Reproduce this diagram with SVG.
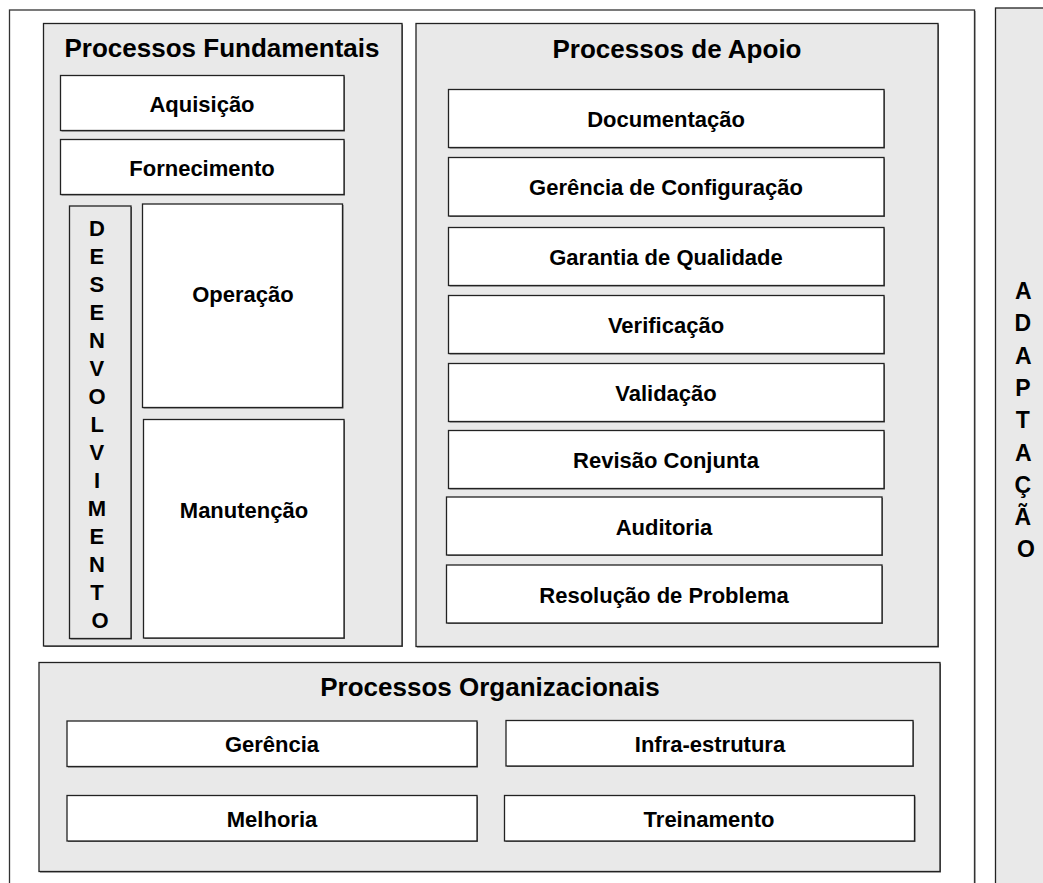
<svg xmlns="http://www.w3.org/2000/svg" width="1043" height="883" viewBox="0 0 1043 883">
  <style>
    .frame { fill: #ffffff; stroke: #333333; stroke-width: 1.3; }
    .panel { fill: #e9e9e9; stroke: #222222; stroke-width: 1.3; }
    .box { fill: #ffffff; stroke: #222222; stroke-width: 1.3; }
    .gbox { fill: #e9e9e9; stroke: #222222; stroke-width: 1.3; }
    .shadow { fill: #666666; }
    .title { font-family: "Liberation Sans", Arial, sans-serif; font-weight: bold; font-size: 26px; fill: #000000; text-anchor: middle; }
    .label { font-family: "Liberation Sans", Arial, sans-serif; font-weight: bold; font-size: 22px; fill: #000000; text-anchor: middle; }
    .vert { font-family: "Liberation Sans", Arial, sans-serif; font-weight: bold; font-size: 22px; fill: #000000; text-anchor: middle; }
    .vert2 { font-family: "Liberation Sans", Arial, sans-serif; font-weight: bold; font-size: 23px; fill: #000000; text-anchor: middle; }
  </style>

  <rect width="1043" height="883" fill="#ffffff"/>

  <!-- outer frame holding the three process groups -->
  <g id="frame">
    <rect class="shadow" x="10.5" y="11" width="965" height="880"/>
    <rect class="frame" x="9.5" y="10" width="965" height="880"/>
  </g>

  <!-- tailoring column on the right -->
  <g id="adaptacao">
    <rect class="panel" x="995.5" y="8" width="60" height="890"/>
    <text class="vert2" x="1026">
      <tspan x="1026" y="299">A</tspan>
      <tspan x="1026" dy="32.3">D</tspan>
      <tspan x="1026" dy="32.3">A</tspan>
      <tspan x="1026" dy="32.3">P</tspan>
      <tspan x="1026" dy="32.3">T</tspan>
      <tspan x="1026" dy="32.3">A</tspan>
      <tspan x="1026" dy="32.3">Ç</tspan>
      <tspan x="1026" dy="32.3">Ã</tspan>
      <tspan x="1026" dy="32.3">O</tspan>
    </text>
  </g>

  <!-- primary processes -->
  <g id="fundamentais">
    <rect class="shadow" x="44.5" y="24.5" width="358.5" height="622.5"/>
    <rect class="panel" x="43.5" y="23.5" width="358.5" height="622.5"/>
    <text class="title" x="222" y="57">Processos Fundamentais</text>
  </g>
  <g id="aquisicao">
    <rect class="shadow" x="61.5" y="76.5" width="283.5" height="55"/>
    <rect class="box" x="60.5" y="75.5" width="283.5" height="55"/>
    <text class="label" x="202" y="111.5">Aquisição</text>
  </g>
  <g id="fornecimento">
    <rect class="shadow" x="61.5" y="140.5" width="283.5" height="55"/>
    <rect class="box" x="60.5" y="139.5" width="283.5" height="55"/>
    <text class="label" x="202" y="175.5">Fornecimento</text>
  </g>
  <g id="desenvolvimento">
    <rect class="shadow" x="70.5" y="207" width="61.5" height="432.5"/>
    <rect class="gbox" x="69.5" y="206" width="61.5" height="432.5"/>
    <text class="vert" x="100">
      <tspan x="100" y="236">D</tspan>
      <tspan x="100" dy="28">E</tspan>
      <tspan x="100" dy="28">S</tspan>
      <tspan x="100" dy="28">E</tspan>
      <tspan x="100" dy="28">N</tspan>
      <tspan x="100" dy="28">V</tspan>
      <tspan x="100" dy="28">O</tspan>
      <tspan x="100" dy="28">L</tspan>
      <tspan x="100" dy="28">V</tspan>
      <tspan x="100" dy="28">I</tspan>
      <tspan x="100" dy="28">M</tspan>
      <tspan x="100" dy="28">E</tspan>
      <tspan x="100" dy="28">N</tspan>
      <tspan x="100" dy="28">T</tspan>
      <tspan x="100" dy="28">O</tspan>
    </text>
  </g>
  <g id="operacao">
    <rect class="shadow" x="143.5" y="205" width="200" height="203.5"/>
    <rect class="box" x="142.5" y="204" width="200" height="203.5"/>
    <text class="label" x="243" y="302">Operação</text>
  </g>
  <g id="manutencao">
    <rect class="shadow" x="144.5" y="420.5" width="200.5" height="218.5"/>
    <rect class="box" x="143.5" y="419.5" width="200.5" height="218.5"/>
    <text class="label" x="244" y="518">Manutenção</text>
  </g>

  <!-- supporting processes -->
  <g id="apoio">
    <rect class="shadow" x="417" y="24.5" width="522" height="623"/>
    <rect class="panel" x="416" y="23.5" width="522" height="623"/>
    <text class="title" x="677" y="58">Processos de Apoio</text>
  </g>
  <g id="documentacao">
    <rect class="shadow" x="449.5" y="90.5" width="435.5" height="58"/>
    <rect class="box" x="448.5" y="89.5" width="435.5" height="58"/>
    <text class="label" x="666" y="127">Documentação</text>
  </g>
  <g id="gerencia-configuracao">
    <rect class="shadow" x="449.5" y="158.5" width="435.5" height="58.5"/>
    <rect class="box" x="448.5" y="157.5" width="435.5" height="58.5"/>
    <text class="label" x="666" y="195">Gerência de Configuração</text>
  </g>
  <g id="garantia-qualidade">
    <rect class="shadow" x="449.5" y="228.5" width="435.5" height="58"/>
    <rect class="box" x="448.5" y="227.5" width="435.5" height="58"/>
    <text class="label" x="666" y="265">Garantia de Qualidade</text>
  </g>
  <g id="verificacao">
    <rect class="shadow" x="449.5" y="296.5" width="435.5" height="58"/>
    <rect class="box" x="448.5" y="295.5" width="435.5" height="58"/>
    <text class="label" x="666" y="333">Verificação</text>
  </g>
  <g id="validacao">
    <rect class="shadow" x="449.5" y="364.5" width="435.5" height="58"/>
    <rect class="box" x="448.5" y="363.5" width="435.5" height="58"/>
    <text class="label" x="666" y="401">Validação</text>
  </g>
  <g id="revisao-conjunta">
    <rect class="shadow" x="449.5" y="431.5" width="435.5" height="58"/>
    <rect class="box" x="448.5" y="430.5" width="435.5" height="58"/>
    <text class="label" x="666" y="468">Revisão Conjunta</text>
  </g>
  <g id="auditoria">
    <rect class="shadow" x="447.5" y="498" width="435.5" height="58"/>
    <rect class="box" x="446.5" y="497" width="435.5" height="58"/>
    <text class="label" x="664" y="534.5">Auditoria</text>
  </g>
  <g id="resolucao-problema">
    <rect class="shadow" x="447.5" y="566" width="435.5" height="58"/>
    <rect class="box" x="446.5" y="565" width="435.5" height="58"/>
    <text class="label" x="664" y="602.5">Resolução de Problema</text>
  </g>

  <!-- organizational processes -->
  <g id="organizacionais">
    <rect class="shadow" x="40" y="663.5" width="901" height="209"/>
    <rect class="panel" x="39" y="662.5" width="901" height="209"/>
    <text class="title" x="490" y="696">Processos Organizacionais</text>
  </g>
  <g id="gerencia">
    <rect class="shadow" x="68" y="722" width="410" height="45.5"/>
    <rect class="box" x="67" y="721" width="410" height="45.5"/>
    <text class="label" x="272" y="752">Gerência</text>
  </g>
  <g id="infraestrutura">
    <rect class="shadow" x="507" y="721.5" width="407" height="45.5"/>
    <rect class="box" x="506" y="720.5" width="407" height="45.5"/>
    <text class="label" x="710" y="751.5">Infra-estrutura</text>
  </g>
  <g id="melhoria">
    <rect class="shadow" x="68" y="796.5" width="410" height="45.5"/>
    <rect class="box" x="67" y="795.5" width="410" height="45.5"/>
    <text class="label" x="272" y="826.5">Melhoria</text>
  </g>
  <g id="treinamento">
    <rect class="shadow" x="505.5" y="796.5" width="410" height="45.5"/>
    <rect class="box" x="504.5" y="795.5" width="410" height="45.5"/>
    <text class="label" x="709" y="826.5">Treinamento</text>
  </g>
</svg>
